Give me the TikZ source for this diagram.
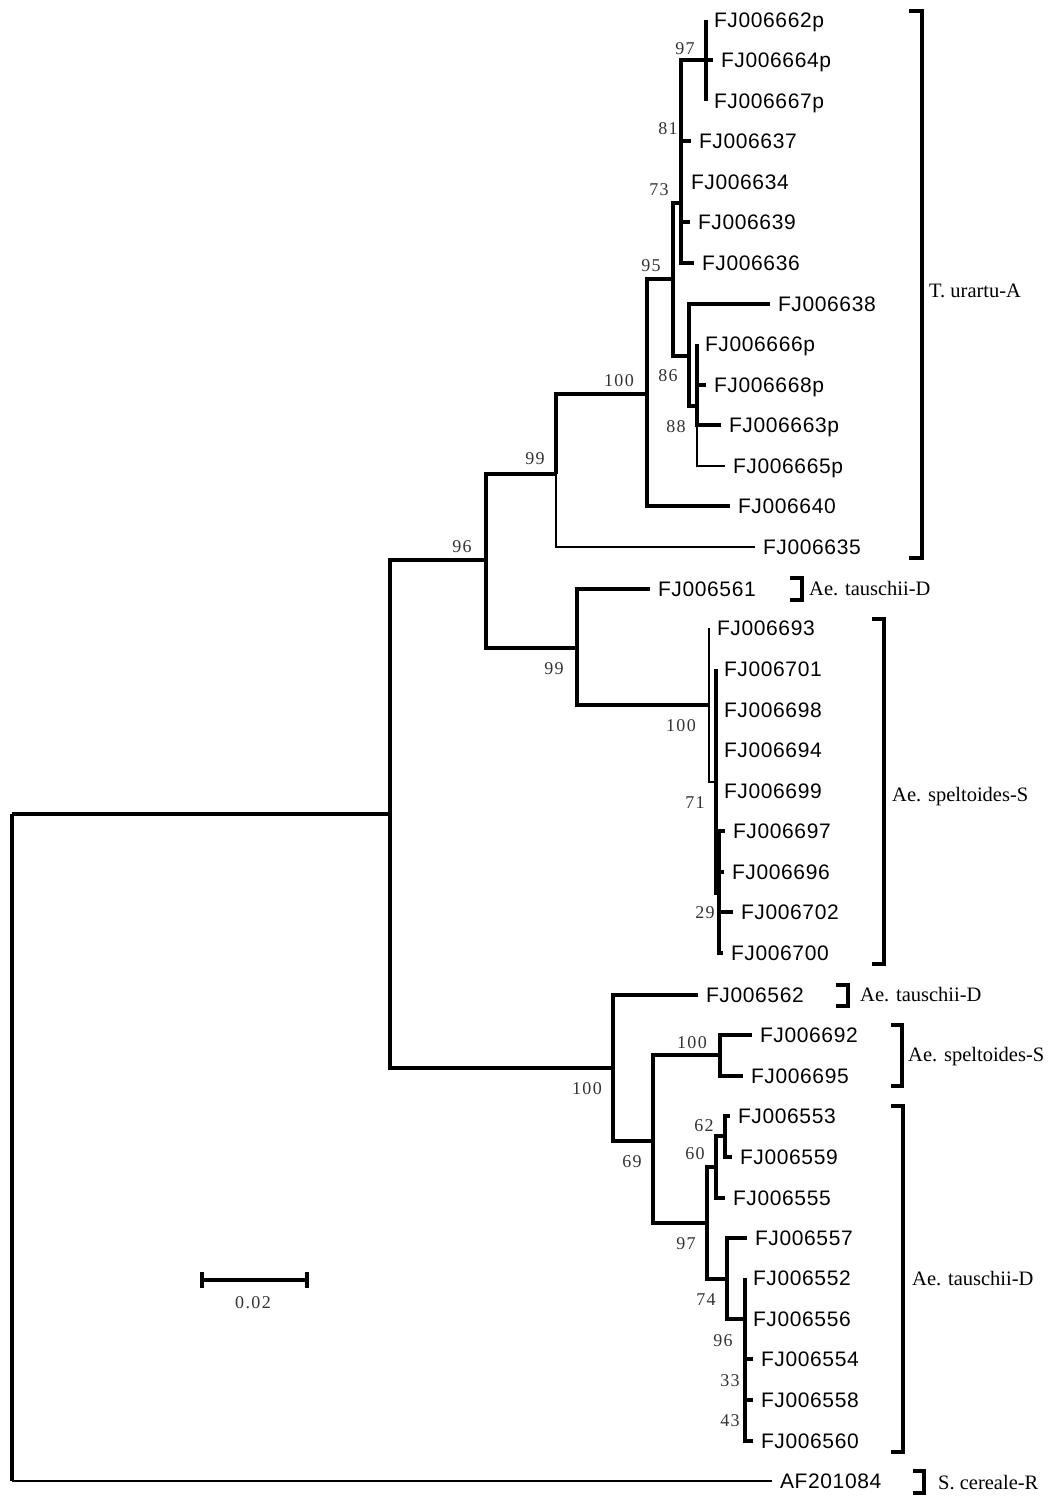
\documentclass[tikz,border=0pt]{standalone}
\usepackage{fontspec}
\newfontfamily\leaffam[LetterSpace=3]{Liberation Sans}
\newfontfamily\bsfam[LetterSpace=8]{Liberation Serif}
\newfontfamily\cladefam{Liberation Serif}
\newcommand\leaffont{\leaffam\fontsize{21}{21}\selectfont}
\newcommand\bsfont{\bsfam\fontsize{18}{18}\selectfont}
\newcommand\cladefont{\cladefam\fontsize{20.5}{20.5}\selectfont}
\tikzset{
  br/.style={line width=3.4pt},
  midbr/.style={line width=2.2pt},
  thinbr/.style={line width=1.4pt},
  brk/.style={line width=3.2pt},
  leaf/.style={anchor=west, inner xsep=8pt, inner ysep=0pt, outer sep=0pt, font=\leaffont, text height=15pt, text depth=0pt},
  bs/.style={font=\bsfont, text=black!80, inner sep=0pt, text height=12pt, text depth=0pt},
  clade/.style={anchor=west, font=\cladefont, inner sep=0pt, text height=13.5pt, text depth=0pt},
}
\begin{document}
\begin{tikzpicture}[x=1pt,y=-1pt]
\useasboundingbox (0,0) rectangle (1047,1502);
\fill[white] (0,0) rectangle (1047,1502);
% internal nodes
\coordinate (nR) at (12,814);
\coordinate (nB) at (390,814);
\coordinate (nC) at (486,560);
\coordinate (nD) at (556,474);
\coordinate (nF) at (647,394);
\coordinate (nG) at (673,279);
\coordinate (nH) at (681,203);
\coordinate (nJ) at (706,60);
\coordinate (nI) at (689,356);
\coordinate (nL) at (697,406);
\coordinate (nE) at (577,648);
\coordinate (nM) at (709,705);
\coordinate (nMa) at (716,782);
\coordinate (nN) at (719,893);
\coordinate (nK) at (613,1068);
\coordinate (nP) at (653,1141);
\coordinate (nQ) at (720,1055);
\coordinate (nS) at (707,1223);
\coordinate (nT) at (716,1167);
\coordinate (nV) at (725,1136);
\coordinate (nU) at (727,1279);
\coordinate (nW) at (745,1319);
% leaves
\node[leaf] (t662) at (706,20) {FJ006662p};
\node[leaf] (t664) at (713,60) {FJ006664p};
\node[leaf] (t667) at (706,101) {FJ006667p};
\node[leaf] (t637) at (691,141) {FJ006637};
\node[leaf] (t634) at (683,182) {FJ006634};
\node[leaf] (t639) at (690,222) {FJ006639};
\node[leaf] (t636) at (694,263) {FJ006636};
\node[leaf] (t638) at (770,304) {FJ006638};
\node[leaf] (t666) at (697,344) {FJ006666p};
\node[leaf] (t668) at (706,385) {FJ006668p};
\node[leaf] (t663) at (721,425) {FJ006663p};
\node[leaf] (t665) at (725,466) {FJ006665p};
\node[leaf] (t640) at (730,506) {FJ006640};
\node[leaf] (t635) at (755,547) {FJ006635};
\node[leaf] (t561) at (650,589) {FJ006561};
\node[leaf] (t693) at (709,628) {FJ006693};
\node[leaf] (t701) at (716,669) {FJ006701};
\node[leaf] (t698) at (716,710) {FJ006698};
\node[leaf] (t694) at (716,750) {FJ006694};
\node[leaf] (t699) at (716,791) {FJ006699};
\node[leaf] (t697) at (725,831) {FJ006697};
\node[leaf] (t696) at (724,872) {FJ006696};
\node[leaf] (t702) at (733,912) {FJ006702};
\node[leaf] (t700) at (723,953) {FJ006700};
\node[leaf] (t562) at (698,995) {FJ006562};
\node[leaf] (t692) at (752,1035) {FJ006692};
\node[leaf] (t695) at (743,1076) {FJ006695};
\node[leaf] (t553) at (730,1116) {FJ006553};
\node[leaf] (t559) at (732,1157) {FJ006559};
\node[leaf] (t555) at (725,1198) {FJ006555};
\node[leaf] (t557) at (747,1238) {FJ006557};
\node[leaf] (t552) at (745,1278) {FJ006552};
\node[leaf] (t556) at (745,1319) {FJ006556};
\node[leaf] (t554) at (753,1359) {FJ006554};
\node[leaf] (t558) at (753,1400) {FJ006558};
\node[leaf] (t560) at (753,1441) {FJ006560};
\node[leaf] (tAF) at (772,1481) {AF201084};
% branches
\foreach \a/\b in {nR/nB, nB/nC, nB/nK, nC/nD, nC/nE, nD/nF, nF/nG, nF/t640.west,
  nG/nH, nG/nI, nH/nJ, nH/t637.west, nH/t634.west, nH/t639.west, nH/t636.west,
  nJ/t662.west, nJ/t664.west, nJ/t667.west, nI/t638.west, nI/nL,
  nL/t666.west, nL/t668.west, nL/t663.west,
  nE/t561.west, nE/nM, nMa/t701.west, nMa/t698.west, nMa/t694.west, nMa/t699.west, nMa/nN,
  nN/t697.west, nN/t696.west, nN/t702.west, nN/t700.west,
  nK/t562.west, nK/nP, nP/nQ, nP/nS, nQ/t692.west, nQ/t695.west,
  nS/nT, nS/nU, nT/nV, nT/t555.west, nV/t553.west, nV/t559.west,
  nU/t557.west, nU/nW, nW/t552.west, nW/t554.west, nW/t558.west, nW/t560.west}
  \draw[br] (\a) |- (\b);
\draw[midbr] (nD) |- (t635.west);
\draw[thinbr] (nL) |- (t665.west);
\draw[thinbr] (nM) |- (t693.west);
\draw[thinbr] (nM) |- (nMa);
\draw[br] (nR) -- (nR |- tAF.west);
\draw[midbr] (nR |- tAF.west) -- (tAF.west);
% bootstrap values
\node[bs] (b97a) at (685,48) {97};
\node[bs] (b81) at (668,128) {81};
\node[bs] (b73) at (659,189) {73};
\node[bs] (b95) at (651,265) {95};
\node[bs] (b100a) at (619,380) {100};
\node[bs] (b86) at (668,375) {86};
\node[bs] (b88) at (676,426) {88};
\node[bs] (b99a) at (535,458) {99};
\node[bs] (b96a) at (462,546) {96};
\node[bs] (b99b) at (554,668) {99};
\node[bs] (b100b) at (681,725) {100};
\node[bs] (b71) at (695,802) {71};
\node[bs] (b29) at (705,912) {29};
\node[bs] (b100c) at (587,1088) {100};
\node[bs] (b69) at (632,1161) {69};
\node[bs] (b100d) at (692,1042) {100};
\node[bs] (b62) at (704,1125) {62};
\node[bs] (b60) at (695,1153) {60};
\node[bs] (b97b) at (686,1243) {97};
\node[bs] (b74) at (706,1299) {74};
\node[bs] (b96b) at (723,1340) {96};
\node[bs] (b33) at (730,1380) {33};
\node[bs] (b43) at (730,1420) {43};
% clade brackets
\draw[brk] (909,11) -- (922,11) -- (922,558) -- (909,558);
\node[clade] (cTu) at (929,291) {T. urartu-A};
\draw[brk] (790,578) -- (802,578) -- (802,600) -- (790,600);
\node[clade] (cAt1) at (809,589) {Ae. tauschii-D};
\draw[brk] (872,619) -- (884,619) -- (884,964) -- (872,964);
\node[clade] (cAs1) at (892,795) {Ae. speltoides-S};
\draw[brk] (836,985) -- (848,985) -- (848,1006) -- (836,1006);
\node[clade] (cAt2) at (860,995) {Ae. tauschii-D};
\draw[brk] (891,1025) -- (902,1025) -- (902,1086) -- (891,1086);
\node[clade] (cAs2) at (908,1055) {Ae. speltoides-S};
\draw[brk] (891,1106) -- (903,1106) -- (903,1452) -- (891,1452);
\node[clade] (cAt3) at (912,1279) {Ae. tauschii-D};
\draw[brk] (913,1471) -- (924,1471) -- (924,1493) -- (913,1493);
\node[clade] (cSc) at (938,1483) {S. cereale-R};
% scale bar
\draw[br] (202,1280) -- (307,1280);
\draw[br] (202,1272) -- (202,1288);
\draw[br] (307,1272) -- (307,1288);
\node[bs] (scl) at (253,1302) {0.02};
\end{tikzpicture}
\end{document}
